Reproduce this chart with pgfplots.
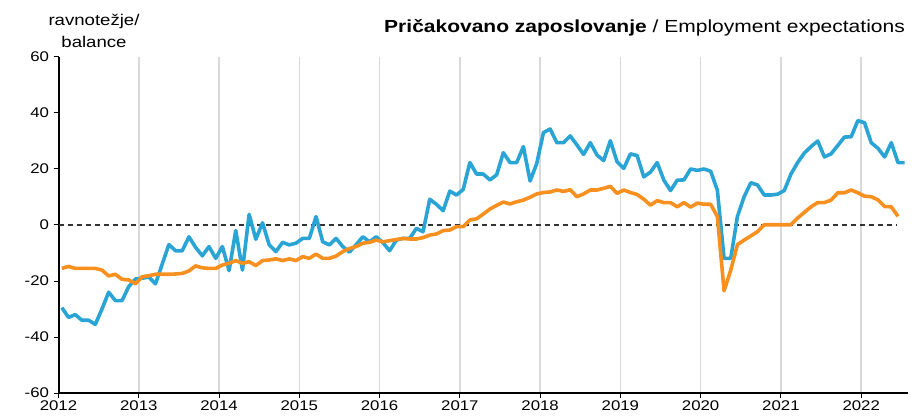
\documentclass[border=0pt]{standalone}
\usepackage{fontspec}
\setmainfont{Liberation Sans}[FakeStretch=1.2]
\usepackage{pgfplots}
\usepackage{pgfplotstable}
\pgfplotsset{compat=1.18}

\definecolor{sibl}{RGB}{41,164,213}
\definecolor{sior}{RGB}{247,144,30}
\definecolor{gridgr}{RGB}{217,217,217}

% month index (0 = Jan 2012), balance
\pgfplotstableread{
m val
0 -29.5
1 -33
2 -32
3 -34
4 -34
5 -35.5
6 -30
7 -24
8 -27
9 -27
10 -22
11 -19.3
12 -19
13 -18.6
14 -21
15 -14
16 -7
17 -9.2
18 -9.2
19 -4.2
20 -8
21 -11
22 -7.7
23 -11.9
24 -7.7
25 -16.3
26 -2
27 -16.1
28 3.8
29 -5.1
30 0.8
31 -7.1
32 -9.5
33 -6.2
34 -7.1
35 -6.5
36 -4.8
37 -4.8
38 3
39 -6
40 -7.1
41 -4.8
42 -7.7
43 -9.7
44 -7
45 -4.2
46 -6
47 -4.2
48 -6.3
49 -9.2
50 -5.4
51 -4.8
52 -4.8
53 -1.2
54 -2.4
55 9.2
56 7.4
57 5.1
58 12.1
59 10.7
60 12.7
61 22.3
62 18.2
63 18.2
64 16.1
65 17.9
66 25.8
67 22.3
68 22.3
69 28
70 15.7
71 22
72 33
73 34.3
74 29.4
75 29.4
76 31.8
77 28.6
78 25.2
79 29.4
80 25
81 23
82 30.1
83 22.6
84 20.2
85 25.4
86 24.8
87 17.2
88 18.9
89 22.3
90 16
91 12.3
92 16
93 16.1
94 20
95 19.5
96 20
97 19.2
98 12.4
99 -11.9
100 -11.9
101 3.1
102 10.1
103 15.1
104 14.3
105 10.7
106 10.7
107 11
108 12.3
109 18.2
110 22.3
111 25.7
112 28
113 30
114 24.3
115 25.4
116 28.4
117 31.4
118 31.5
119 37.3
120 36.5
121 29.4
122 27.4
123 24.3
124 29.4
125 22.3
126 22.3
}\bluedata

\pgfplotstableread{
m val
0 -15.5
1 -14.8
2 -15.5
3 -15.5
4 -15.5
5 -15.5
6 -16.1
7 -18.2
8 -17.6
9 -19.4
10 -19.6
11 -21
12 -18.5
13 -18.1
14 -17.6
15 -17.6
16 -17.6
17 -17.5
18 -17.3
19 -16.4
20 -14.6
21 -15.3
22 -15.5
23 -15.5
24 -14.3
25 -13.7
26 -12.7
27 -13.7
28 -13.1
29 -14.5
30 -12.7
31 -12.5
32 -12.1
33 -12.7
34 -12.1
35 -12.7
36 -11.3
37 -11.9
38 -10.4
39 -11.9
40 -11.9
41 -11.1
42 -9.5
43 -8.4
44 -7.7
45 -6.5
46 -6.2
47 -5.4
48 -6.0
49 -5.6
50 -5.2
51 -4.8
52 -5.0
53 -5.0
54 -4.5
55 -3.6
56 -3.2
57 -2.0
58 -1.8
59 -0.6
60 -0.6
61 1.8
62 2.2
63 3.9
64 5.7
65 7.0
66 8.2
67 7.5
68 8.3
69 8.9
70 9.9
71 11.1
72 11.6
73 11.8
74 12.5
75 12.0
76 12.6
77 10.1
78 11.1
79 12.5
80 12.5
81 13.1
82 13.8
83 11.3
84 12.5
85 11.6
86 10.9
87 9.2
88 7.1
89 8.7
90 8.0
91 8.0
92 6.5
93 8.0
94 6.4
95 7.8
96 7.4
97 7.4
98 3.0
99 -23.5
100 -16.1
101 -7.0
102 -5.4
103 -3.9
104 -2.4
105 0.1
106 0.1
107 0.1
108 0.1
109 0.1
110 2.5
111 4.5
112 6.5
113 8.0
114 8.0
115 8.9
116 11.5
117 11.5
118 12.5
119 11.5
120 10.3
121 10.1
122 9.0
123 6.6
124 6.5
125 3.1
}\orangedata

\begin{document}
\begin{tikzpicture}[x=1bp,y=1bp]
\useasboundingbox (0,0) rectangle (912,416);
\begin{axis}[
    at={(58.5bp,23bp)}, anchor=south west,
    scale only axis, width=849.5bp, height=336bp,
    xmin=0, xmax=127, ymin=-60, ymax=60,
    axis x line=bottom, axis y line=left,
    axis line style={black, line width=2bp, -},
    xtick={0,12,24,36,48,60,72,84,96,108,120},
    xticklabels={2012,2013,2014,2015,2016,2017,2018,2019,2020,2021,2022},
    ytick={-60,-40,-20,0,20,40,60},
    xmajorgrids,
    major grid style={gridgr, line width=1.6bp},
    tick style={black, line width=1bp},
    tick align=outside, major tick length=5bp,
    tick label style={font=\fontsize{14bp}{16bp}\selectfont},
    xticklabel style={yshift=1bp},
    yticklabel style={xshift=-1bp},
    /pgf/number format/assume math mode=true,
]
% zero line
\addplot[black!80, line width=1.4bp, dash pattern=on 5bp off 4bp]
    coordinates {(0,0) (125.3,0)};
% series
\addplot[sibl, line width=3.6bp, line join=round]
    table[x expr=\thisrow{m}+0.5, y=val] {\bluedata};
\addplot[sior, line width=3.6bp, line join=round]
    table[x expr=\thisrow{m}+0.5, y=val] {\orangedata};
\end{axis}
\node[align=center, inner sep=0pt, font=\fontsize{15.5bp}{22bp}\selectfont]
    at (94,385) {ravnotežje/\\balance};
\node[anchor=east, inner sep=0pt, font=\fontsize{17.5bp}{20bp}\selectfont]
    at (905,388) {\textbf{Pričakovano zaposlovanje} / Employment expectations};
\end{tikzpicture}
\end{document}
